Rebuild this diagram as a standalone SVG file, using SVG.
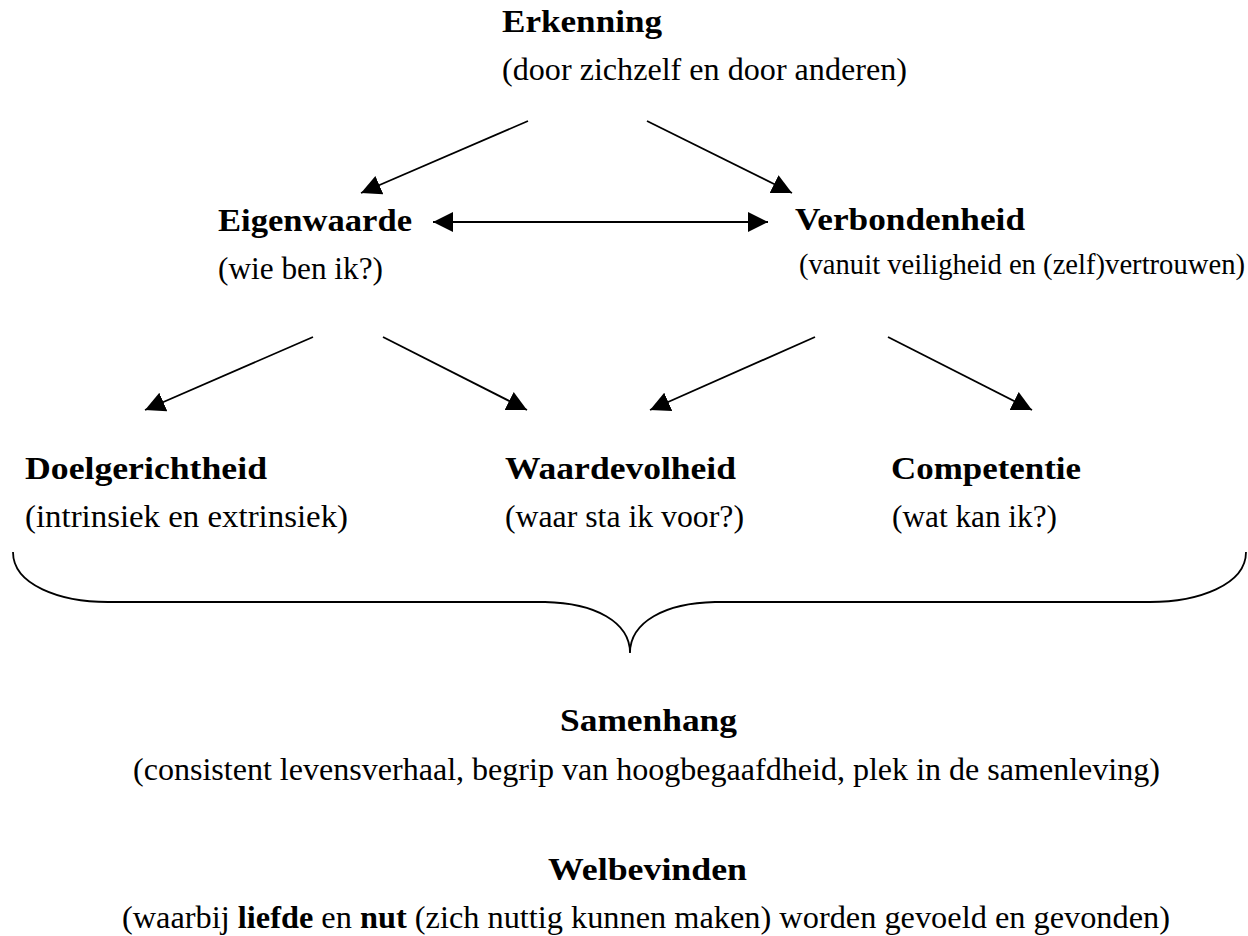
<svg xmlns="http://www.w3.org/2000/svg" width="1248" height="936" viewBox="0 0 1248 936">
<defs>
<style>
text{font-family:"Liberation Serif","Times New Roman",serif;font-size:31px;fill:#000}
.h{font-weight:bold}
.t{font-size:28.6px}
.ln{stroke:#000;stroke-width:1.8;fill:none}
</style>
<marker id="ah" markerUnits="userSpaceOnUse" markerWidth="22" markerHeight="22" refX="20" refY="10" orient="auto-start-reverse" viewBox="0 0 22 22">
<path d="M0,0 L20,10 L0,20 z" fill="#000"/>
</marker>
</defs>
<rect width="1248" height="936" fill="#fff"/>
<g id="connectors">
<line class="ln" x1="528" y1="121" x2="361" y2="193" marker-end="url(#ah)"/>
<line class="ln" x1="647" y1="121" x2="792" y2="193" marker-end="url(#ah)"/>
<line class="ln" x1="433" y1="222" x2="768" y2="222" marker-start="url(#ah)" marker-end="url(#ah)"/>
<line class="ln" x1="313" y1="337" x2="145" y2="410" marker-end="url(#ah)"/>
<line class="ln" x1="383" y1="337" x2="527" y2="410" marker-end="url(#ah)"/>
<line class="ln" x1="815" y1="337" x2="650" y2="410" marker-end="url(#ah)"/>
<line class="ln" x1="888" y1="337" x2="1032" y2="410" marker-end="url(#ah)"/>
<path id="brace" class="ln" d="M13,552 C13,585 60,602 108,602 L545,602 C595,603 630,622 630,653 C630,622 665,603 715,602 L1150,602 C1198,602 1246,585 1246,552"/>
</g>
<g id="erkenning">
<text class="h" x="502" y="32" textLength="160" lengthAdjust="spacingAndGlyphs">Erkenning</text>
<text x="502" y="80" textLength="405" lengthAdjust="spacingAndGlyphs">(door zichzelf en door anderen)</text>
</g>
<g id="eigenwaarde">
<text class="h" x="218" y="231" textLength="194" lengthAdjust="spacingAndGlyphs">Eigenwaarde</text>
<text x="218" y="279" textLength="165" lengthAdjust="spacingAndGlyphs">(wie ben ik?)</text>
</g>
<g id="verbondenheid">
<text class="h" x="795" y="230" textLength="230" lengthAdjust="spacingAndGlyphs">Verbondenheid</text>
<text class="t" x="799" y="274" textLength="446" lengthAdjust="spacingAndGlyphs">(vanuit veiligheid en (zelf)vertrouwen)</text>
</g>
<g id="doelgerichtheid">
<text class="h" x="25" y="479" textLength="242" lengthAdjust="spacingAndGlyphs">Doelgerichtheid</text>
<text x="25" y="527" textLength="323" lengthAdjust="spacingAndGlyphs">(intrinsiek en extrinsiek)</text>
</g>
<g id="waardevolheid">
<text class="h" x="505" y="479" textLength="231" lengthAdjust="spacingAndGlyphs">Waardevolheid</text>
<text x="505" y="527" textLength="239" lengthAdjust="spacingAndGlyphs">(waar sta ik voor?)</text>
</g>
<g id="competentie">
<text class="h" x="891" y="479" textLength="190" lengthAdjust="spacingAndGlyphs">Competentie</text>
<text x="892" y="527" textLength="165" lengthAdjust="spacingAndGlyphs">(wat kan ik?)</text>
</g>
<g id="samenhang">
<text class="h" x="560" y="731" textLength="177" lengthAdjust="spacingAndGlyphs">Samenhang</text>
<text x="133" y="780" textLength="1027" lengthAdjust="spacingAndGlyphs">(consistent levensverhaal, begrip van hoogbegaafdheid, plek in de samenleving)</text>
</g>
<g id="welbevinden">
<text class="h" x="548" y="880" textLength="199" lengthAdjust="spacingAndGlyphs">Welbevinden</text>
<text x="122" y="928" textLength="1048" lengthAdjust="spacingAndGlyphs">(waarbij <tspan class="h">liefde</tspan> en <tspan class="h">nut</tspan> (zich nuttig kunnen maken) worden gevoeld en gevonden)</text>
</g>
</svg>
